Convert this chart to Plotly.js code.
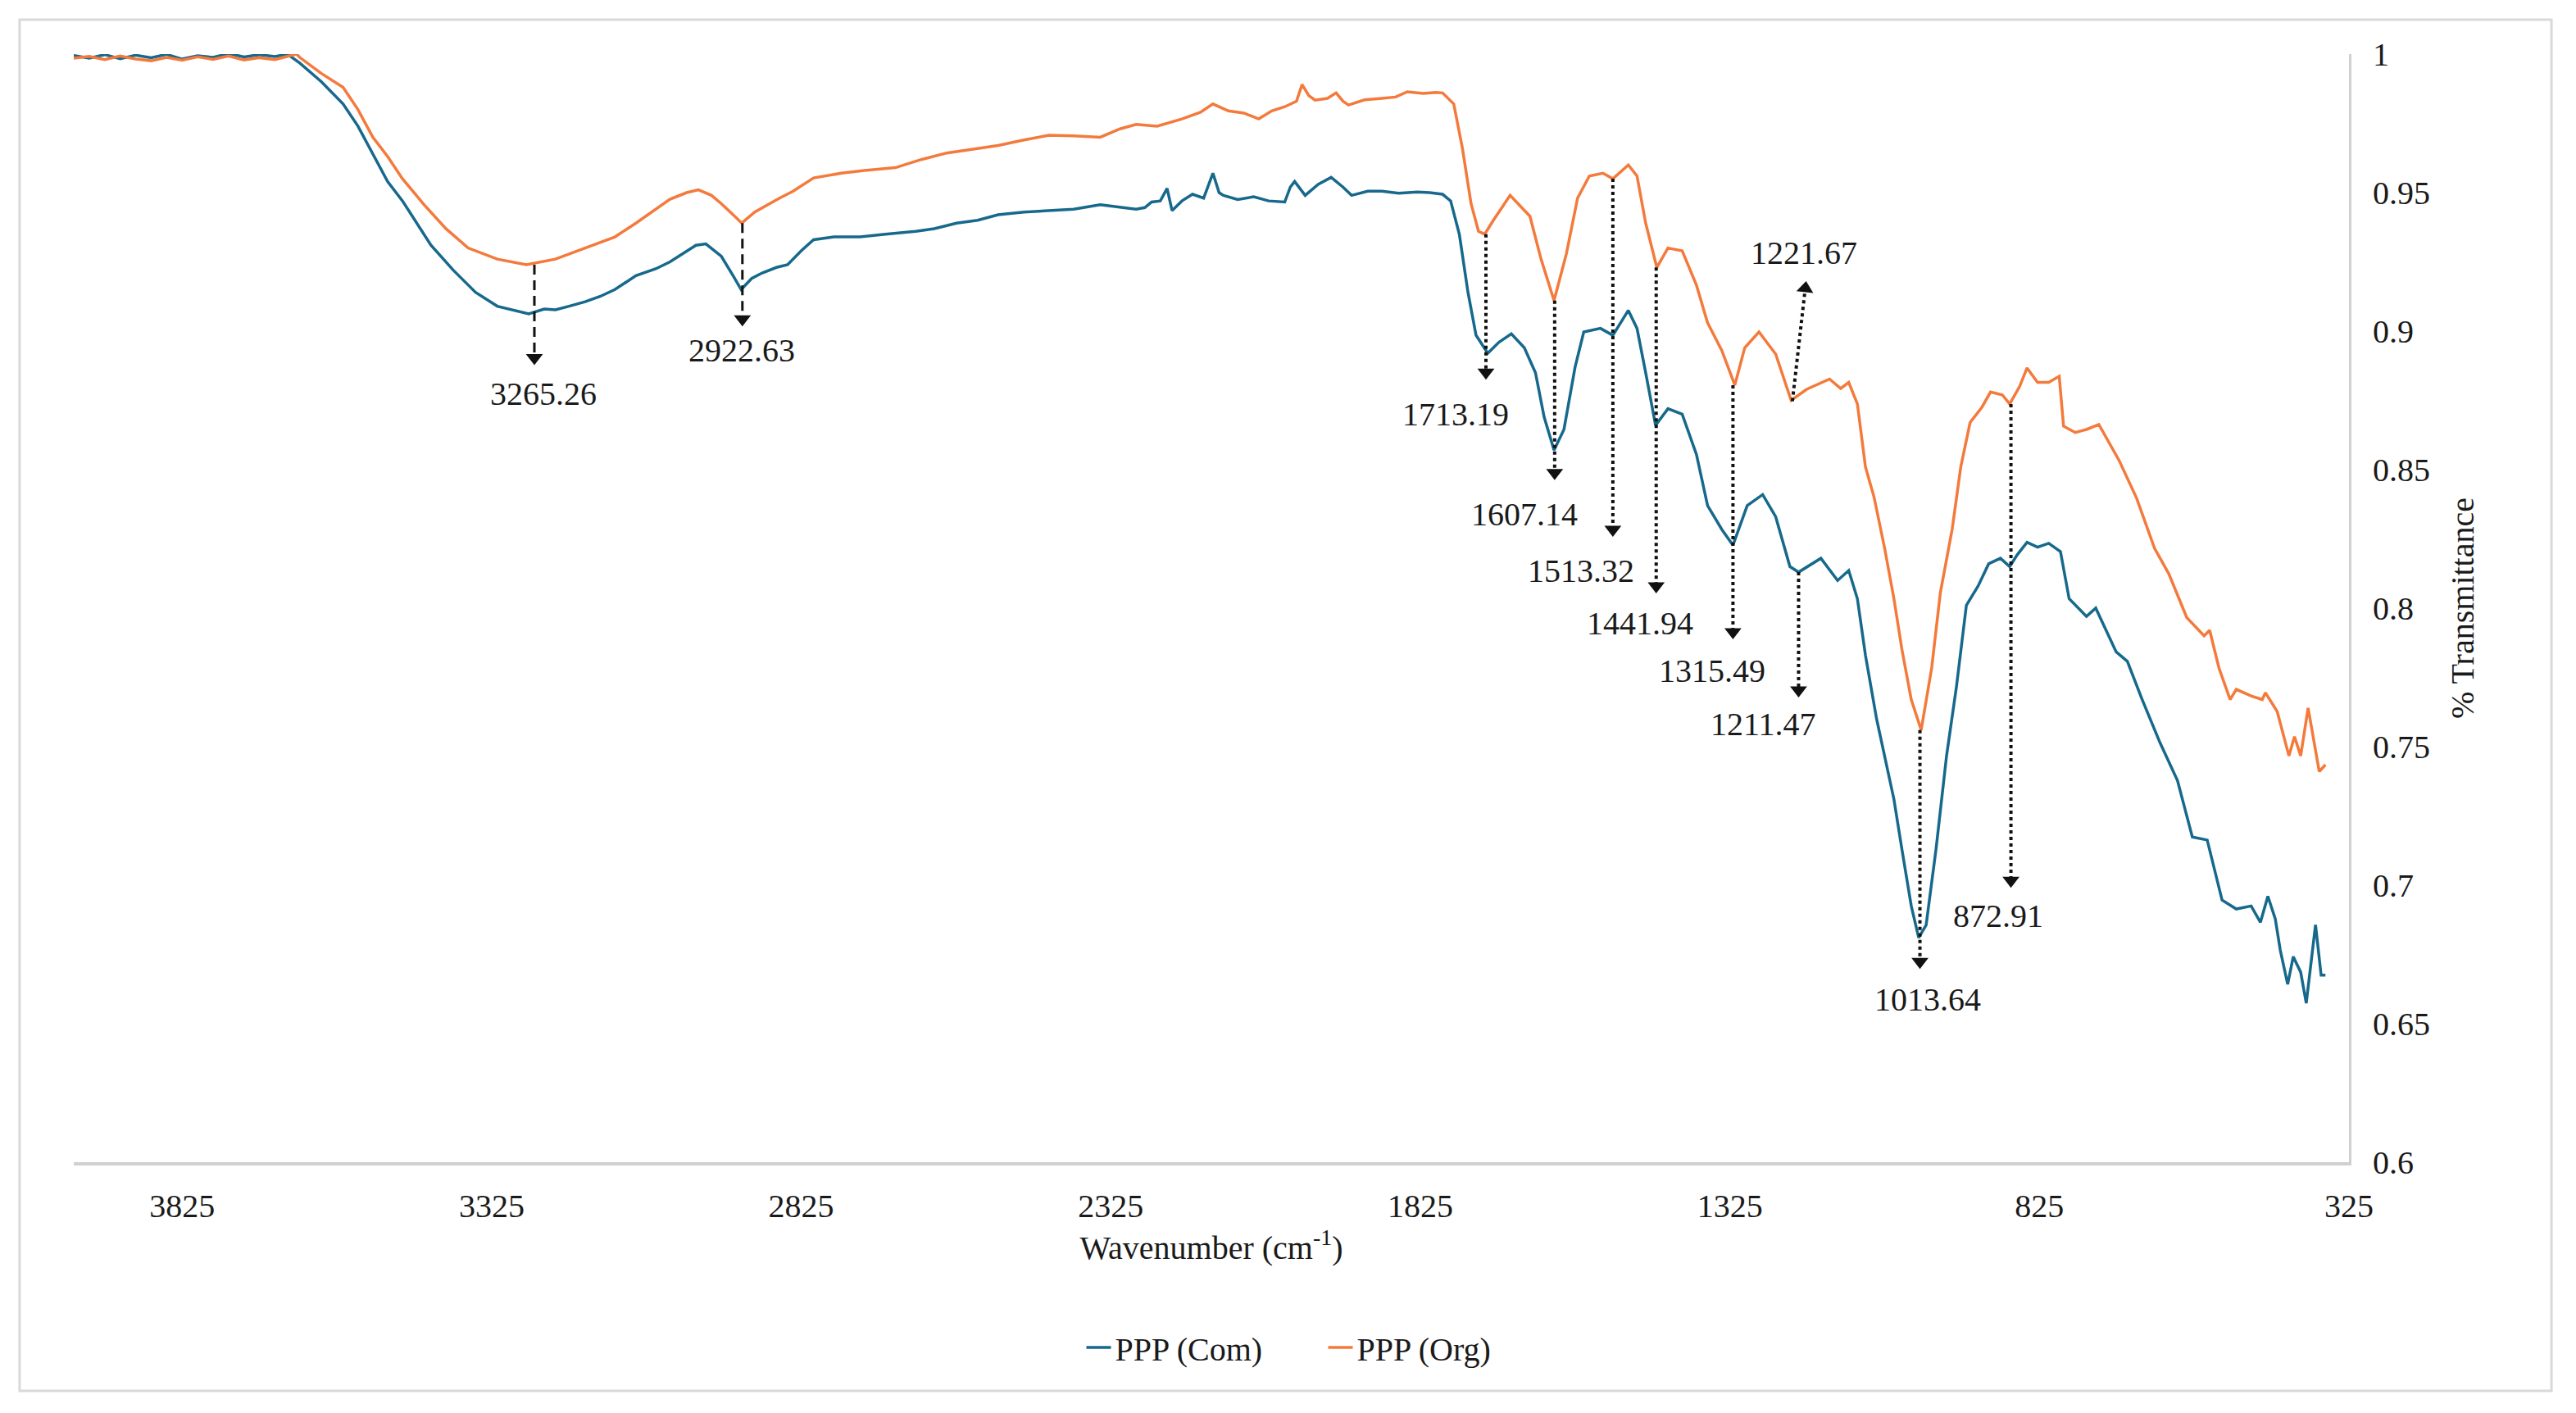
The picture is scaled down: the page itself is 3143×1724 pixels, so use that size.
<!DOCTYPE html>
<html>
<head>
<meta charset="utf-8">
<script src="https://cdn.plot.ly/plotly-3.0.1.min.js"></script>
<style>html,body{margin:0;padding:0;background:#fff;}#chart{width:3143px;height:1724px;}</style>
</head>
<body>
<div id="chart"></div>
<script>
// ---------- data ----------
const comWavenumber = [4000,3975,3950,3925,3900,3875,3850,3825,3800,3775,3750,3725,3700,3675,3655,3640,3635,3600,3565,3541,3517,3493,3469,3446,3423,3387,3351,3316,3290,3265,3240,3222,3200,3174,3150,3126,3092,3060,3037,3015,2995,2979,2965,2954,2935,2922,2905,2888,2865,2847,2825,2805,2772,2730,2689,2640,2610,2574,2540,2507,2465,2425,2385,2342,2310,2284,2270,2259,2245,2234,2226,2210,2193,2175,2160,2150,2143,2120,2094,2070,2044,2035,2028,2011,1990,1969,1950,1936,1910,1887,1860,1830,1810,1789,1776,1762,1748,1735,1716,1698,1678,1657,1639,1625,1609,1593,1575,1561,1534,1514,1489,1475,1461,1445,1425,1402,1379,1361,1338,1320,1297,1272,1251,1228,1214,1178,1151,1133,1119,1106,1088,1075,1060,1047,1032,1020,1008,992,975,959,943,924,907,888,873,861,845,828,810,791,777,749,734,701,683,659,630,602,578,554,530,507,483,468,456,444,436,424,415,403,394,379,370,363];
const comTransmittance = [0.9995,0.9985,0.9998,0.9983,0.9996,0.9987,0.9999,0.9982,0.9994,0.9988,1.0002,0.9990,0.9998,0.9991,1.0000,0.9975,0.9968,0.990,0.982,0.974,0.964,0.954,0.947,0.939,0.931,0.922,0.914,0.909,0.9075,0.9062,0.9080,0.9077,0.9090,0.9106,0.9125,0.915,0.920,0.9225,0.925,0.928,0.931,0.9315,0.929,0.927,0.920,0.915,0.919,0.921,0.923,0.924,0.929,0.933,0.934,0.934,0.935,0.936,0.937,0.939,0.940,0.942,0.943,0.9436,0.944,0.9456,0.9448,0.944,0.9446,0.9466,0.9470,0.9515,0.9435,0.9470,0.9494,0.9480,0.957,0.9500,0.949,0.9475,0.9485,0.9470,0.9466,0.9520,0.954,0.949,0.9530,0.9555,0.9520,0.949,0.9505,0.9505,0.9498,0.9502,0.9500,0.9494,0.947,0.935,0.914,0.8985,0.892,0.896,0.899,0.894,0.885,0.869,0.857,0.8645,0.887,0.8997,0.901,0.8985,0.9075,0.901,0.885,0.866,0.872,0.870,0.8555,0.837,0.8284,0.8227,0.837,0.841,0.833,0.815,0.813,0.818,0.810,0.8136,0.8034,0.783,0.760,0.747,0.731,0.7128,0.6925,0.681,0.6856,0.713,0.7467,0.7717,0.801,0.808,0.816,0.818,0.815,0.8192,0.8238,0.822,0.8234,0.8204,0.8034,0.797,0.800,0.7842,0.7808,0.767,0.7513,0.7378,0.7174,0.7163,0.6946,0.6914,0.6925,0.6866,0.696,0.6878,0.6766,0.6642,0.6742,0.6686,0.6574,0.6857,0.6675,0.6675];

const orgWavenumber = [4000,3975,3950,3925,3900,3875,3850,3825,3800,3775,3750,3725,3700,3675,3655,3640,3635,3600,3565,3541,3517,3493,3469,3434,3399,3363,3316,3269,3222,3174,3126,3092,3060,3037,3010,2991,2970,2954,2935,2921,2900,2880,2860,2838,2820,2805,2760,2723,2673,2630,2590,2550,2507,2465,2425,2385,2342,2310,2284,2250,2210,2180,2160,2135,2110,2086,2065,2044,2025,2016,2005,1995,1975,1961,1950,1941,1915,1887,1865,1846,1820,1800,1789,1771,1757,1743,1731,1721,1707,1680,1648,1630,1609,1589,1571,1552,1530,1514,1489,1475,1461,1443,1425,1402,1379,1361,1338,1317,1301,1278,1251,1226,1201,1164,1146,1133,1119,1106,1092,1075,1060,1047,1032,1016,999,985,966,952,937,918,904,885,873,857,845,828,810,793,786,767,749,729,696,668,639,616,587,559,550,535,517,507,483,465,460,441,422,413,403,391,373,363];
const orgTransmittance = [0.9985,0.9992,0.9980,0.9993,0.9982,0.9976,0.9988,0.9978,0.9990,0.9981,0.9993,0.9979,0.9987,0.9980,0.9992,1.0000,0.9988,0.993,0.988,0.980,0.970,0.963,0.955,0.9456,0.937,0.930,0.926,0.924,0.926,0.930,0.934,0.939,0.944,0.9476,0.950,0.951,0.949,0.946,0.942,0.939,0.943,0.9456,0.948,0.9505,0.953,0.9553,0.957,0.958,0.959,0.962,0.9643,0.9655,0.967,0.969,0.9707,0.9705,0.970,0.973,0.9746,0.9740,0.9766,0.9790,0.982,0.9795,0.9787,0.9766,0.9795,0.981,0.9830,0.989,0.9850,0.9834,0.9840,0.986,0.9830,0.9816,0.9835,0.984,0.9845,0.9864,0.9858,0.9862,0.986,0.982,0.966,0.946,0.936,0.935,0.940,0.949,0.9415,0.926,0.911,0.928,0.948,0.956,0.957,0.955,0.960,0.956,0.939,0.923,0.930,0.929,0.9166,0.903,0.893,0.8805,0.894,0.8997,0.8917,0.875,0.879,0.8827,0.8793,0.8815,0.8737,0.851,0.840,0.8216,0.8034,0.785,0.767,0.756,0.7785,0.8056,0.8284,0.851,0.867,0.8725,0.878,0.877,0.8737,0.880,0.8867,0.8815,0.8815,0.8837,0.8657,0.8634,0.8645,0.8663,0.8532,0.8397,0.8216,0.8124,0.7966,0.790,0.792,0.7784,0.767,0.7707,0.7683,0.767,0.7695,0.7627,0.7467,0.7536,0.7467,0.764,0.741,0.7435];

const seriesNames = ['PPP (Com)', 'PPP (Org)'];

const xTickVals = [3825, 3325, 2825, 2325, 1825, 1325, 825, 325];
const yTickVals = [0.6, 0.65, 0.7, 0.75, 0.8, 0.85, 0.9, 0.95, 1];
const yTickText = ['0.6', '0.65', '0.7', '0.75', '0.8', '0.85', '0.9', '0.95', '1'];

// peak call-outs (wavenumber / transmittance values)
const peakLabels   = ['3265.26','2922.63','1713.19','1607.14','1513.32','1441.94','1315.49','1211.47','1221.67','1013.64','872.91'];
const peakStartX   = [3256, 2920, 1719, 1608, 1514, 1444, 1320, 1214, 1224, 1018, 871];
const peakStartT   = [0.924, 0.939, 0.935, 0.911, 0.955, 0.923, 0.8805, 0.813, 0.8747, 0.756, 0.8737];
const peakTipX     = [3256, 2920, 1719, 1608, 1514, 1444, 1320, 1214, 1202, 1018, 871];
const peakTipT     = [0.888, 0.902, 0.8827, 0.8465, 0.826, 0.8056, 0.789, 0.768, 0.9178, 0.670, 0.6993];
const peakLabelX   = [3242, 2921, 1768, 1657, 1566, 1470, 1353, 1271, 1205, 1006, 892];
const peakLabelT   = [0.8775, 0.893, 0.870, 0.834, 0.8136, 0.7944, 0.7774, 0.758, 0.9284, 0.6586, 0.689];

// ---------- drawing ----------
const FONT = 'Liberation Serif, Times New Roman, serif';
const TXT = '#1a1a1a';
const PX_T = 0.4 / 1352;      // transmittance per pixel on the y axis
const PX_X = 3675 / 2776;     // wavenumber per pixel on the x axis
const HEAD = 18;              // arrow head size in px

const traces = [
  {x: comWavenumber, y: comTransmittance, name: seriesNames[0], type: 'scatter', mode: 'lines',
   line: {color: '#17698c', width: 3.5}},
  {x: orgWavenumber, y: orgTransmittance, name: seriesNames[1], type: 'scatter', mode: 'lines',
   line: {color: '#f47a3c', width: 3.5}}
];

const shapes = [{
  type: 'rect', xref: 'paper', yref: 'paper',
  x0: -0.0238, x1: 1.0890, y0: -0.2064, y1: 1.0311,
  line: {color: '#d9d9d9', width: 3}, fillcolor: 'rgba(0,0,0,0)', layer: 'below'
}];
const annotations = [];
const headX = [], headY = [], headAngle = [];
peakLabels.forEach((lab, i) => {
  const dxp = -(peakTipX[i] - peakStartX[i]) / PX_X;
  const dyp = (peakTipT[i] - peakStartT[i]) / PX_T;
  const len = Math.hypot(dxp, dyp);
  const ux = dxp / len, uy = dyp / len;
  const back = HEAD * 0.45;
  const cx = peakTipX[i] + ux * back * PX_X;
  const cy = peakTipT[i] - uy * back * PX_T;
  headX.push(cx); headY.push(cy);
  headAngle.push(Math.atan2(ux, uy) * 180 / Math.PI);
  shapes.push({
    type: 'line', xref: 'x', yref: 'y',
    x0: peakStartX[i], y0: peakStartT[i], x1: cx, y1: cy,
    line: {color: '#111', width: i < 2 ? 3 : 4, dash: i < 2 ? '12px,7px' : '4px,4px'}
  });
  annotations.push({
    x: peakLabelX[i], y: peakLabelT[i], xref: 'x', yref: 'y', showarrow: false,
    text: lab, font: {family: FONT, size: 40, color: TXT}, xanchor: 'center', yanchor: 'middle'
  });
});
traces.push({
  x: headX, y: headY, type: 'scatter', mode: 'markers', showlegend: false, hoverinfo: 'skip',
  marker: {symbol: 'triangle-up', size: HEAD, color: '#111', angle: headAngle, line: {width: 0}}
});

const layout = {
  width: 3143, height: 1724,
  margin: {l: 90, r: 277, t: 66, b: 306},
  paper_bgcolor: '#ffffff', plot_bgcolor: '#ffffff',
  font: {family: FONT, size: 40, color: TXT},
  showlegend: true,
  legend: {orientation: 'h', xref: 'container', yref: 'container', x: 0.514, y: 0.0464,
           xanchor: 'center', yanchor: 'middle', font: {family: FONT, size: 40, color: TXT},
           traceorder: 'normal', entrywidth: 250, entrywidthmode: 'pixels'},
  xaxis: {
    range: [4000, 325], autorange: false, tickmode: 'array', tickvals: xTickVals,
    ticktext: xTickVals.map(String),
    showgrid: false, zeroline: false, showline: true, linecolor: '#d0d0d0', linewidth: 4,
    ticks: '', ticklabelstandoff: 15, tickfont: {family: FONT, size: 40, color: TXT},
    title: {text: 'Wavenumber (cm<sup>-1</sup>)', font: {family: FONT, size: 40, color: TXT}, standoff: 12},
    automargin: false
  },
  yaxis: {
    range: [0.6, 1], autorange: false, side: 'right', tickmode: 'array',
    tickvals: yTickVals, ticktext: yTickText,
    showgrid: false, zeroline: false, showline: true, linecolor: '#d0d0d0', linewidth: 3,
    ticks: '', ticklabelstandoff: 18, tickfont: {family: FONT, size: 40, color: TXT},
    title: {text: '% Transmittance', font: {family: FONT, size: 40, color: TXT}, standoff: 26},
    automargin: false
  },
  shapes: shapes,
  annotations: annotations
};

Plotly.newPlot('chart', traces, layout, {staticPlot: true, displayModeBar: false});
</script>
</body>
</html>
